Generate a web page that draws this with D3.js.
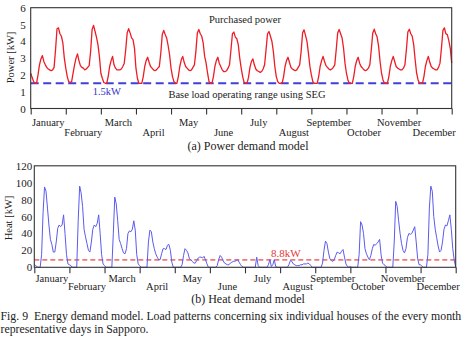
<!DOCTYPE html>
<html><head><meta charset="utf-8">
<script src="https://cdn.jsdelivr.net/npm/d3@7"></script>
<style>
html,body{margin:0;padding:0;background:#fff;}
svg{display:block;font-family:"Liberation Serif","Times New Roman",serif;}
text{fill:#222;}
</style></head>
<body>
<svg id="c" width="472" height="347"></svg>
<script>
const months = ["January","February","March","April","May","June","July","August","September","October","November","December"];
const powerTicks = [0,1,2,3,4,5,6];
const heatTicks = [0,20,40,60,80,100,120];
const baseLoad = 1.5;
const heatLevel = 8.8;
// hourly purchased power [kW], one representative day per month
const power = [
 [2.1,1.85,1.6,1.5,1.5,2.0,2.6,2.95,3.15,2.8,2.6,2.45,2.35,2.3,2.25,2.3,2.45,3.5,4.75,4.8,4.45,4.3,3.9,3.0],
 [2.4,1.9,1.6,1.55,1.6,2.1,2.6,3.0,3.25,2.85,2.55,2.45,2.4,2.3,2.35,2.45,2.55,3.4,4.7,4.95,4.6,4.25,3.8,3.1],
 [2.1,1.8,1.55,1.5,1.5,1.9,2.5,2.85,3.1,2.6,2.4,2.3,2.3,2.3,2.35,2.5,2.7,3.5,4.5,4.75,4.5,4.2,4.1,3.6],
 [2.4,1.8,1.5,1.5,1.5,1.9,2.5,2.85,3.05,2.75,2.5,2.4,2.3,2.25,2.3,2.4,2.5,3.3,4.4,4.65,4.4,4.2,3.75,3.2],
 [2.4,1.9,1.6,1.5,1.5,1.9,2.5,2.9,3.1,2.75,2.5,2.4,2.3,2.25,2.3,2.45,2.6,3.4,4.5,4.7,4.45,4.3,3.9,3.1],
 [2.7,2.1,1.6,1.5,1.5,1.9,2.5,2.85,3.05,2.7,2.5,2.3,2.2,2.2,2.25,2.4,2.6,3.5,4.45,4.55,4.25,4.15,3.8,3.0],
 [2.4,1.9,1.55,1.5,1.5,1.85,2.45,2.8,2.95,2.6,2.35,2.25,2.2,2.15,2.2,2.35,2.6,3.5,4.45,4.58,4.3,4.0,3.4,2.5],
 [1.9,1.6,1.5,1.5,1.5,1.9,2.5,2.85,3.05,2.75,2.45,2.35,2.3,2.25,2.3,2.45,2.6,3.4,4.5,4.68,4.35,4.0,3.3,2.5],
 [2.0,1.6,1.5,1.5,1.5,1.9,2.5,2.85,3.1,2.8,2.55,2.45,2.35,2.3,2.35,2.45,2.6,3.5,4.5,4.7,4.45,4.2,3.6,2.7],
 [2.1,1.7,1.5,1.5,1.5,1.9,2.5,2.85,3.05,2.7,2.5,2.4,2.3,2.25,2.3,2.4,2.6,3.5,4.5,4.72,4.45,4.25,3.7,2.8],
 [2.1,1.7,1.5,1.5,1.5,1.9,2.5,2.85,3.1,2.8,2.5,2.4,2.35,2.3,2.3,2.4,2.6,3.5,4.55,4.72,4.45,4.3,3.8,2.9],
 [2.1,1.7,1.5,1.5,1.5,1.9,2.5,2.85,3.1,2.75,2.5,2.4,2.35,2.3,2.3,2.45,2.7,3.6,4.65,4.8,4.45,4.4,4.05,3.6,2.7]
];
// hourly heat demand [kW]
const heat = [
 [3.5,2,0.5,0,0,15,65,95,90,70,50,33,27,18,18,30,46,50,48,50,62,40,15,4],
 [3,2,0,0,0,0,55,96,88,72,45,36,28,20,18,30,45,50,48,52,62,40,15,4],
 [2,0,0,0,0,0,40,83,75,55,33,28,22,17,16,22,40,43,42,45,55,44,15,4],
 [2,0,0,0,0,0,30,44,42,30,22,16,12,9,9,16,22,22,21,26,27,20,6,0],
 [0,0,0,0,0,3,14,22,20,17,10,9,7,5,5,8,11,12,12,11,13,9,4,0],
 [0,0,0,0,0,2,9,14,12,8,5,4,3,3,5,6,7,7,8,9,6,3,1,0],
 [0,0,0,0,0,0,0,0,12,2,0,0,0,0,0,0,3,9,1,3,9,1,0,0],
 [0,0,0,0,0,0,3,8,7,4,3,2,2,2,3,3,4,4,4,5,4,2,0,0],
 [0,0,0,0,0,5,20,31,28,18,10,8,7,9,14,18,17,16,19,21,12,4,1,0],
 [1,0,0,0,0,0,15,54,50,40,22,16,12,9,14,22,27,26,28,30,33,15,5,3],
 [2,0,0,0,0,0,30,78,72,55,40,28,20,17,22,35,40,39,40,44,48,30,10,3],
 [3,1,0,0,0,15,70,96,90,60,45,35,25,18,20,30,45,50,49,55,62,45,22,8,0.5]
];

const svg = d3.select("#c");
svg.append("rect").attr("width",472).attr("height",347).attr("fill","#fff");

function panel(cfg){
  const g = svg.append("g");
  const flat = cfg.data.flat();
  const x = d3.scaleLinear().domain([0, 288]).range([cfg.x0, cfg.x1]);
  const xm = d3.scaleLinear().domain([0, 12]).range([cfg.x0, cfg.x1]);
  const y = d3.scaleLinear().domain(cfg.ydom).range([cfg.y0, cfg.y1]);
  g.append("line").attr("x1",cfg.x0).attr("x2",cfg.x1)
    .attr("y1",y(cfg.ref)).attr("y2",y(cfg.ref))
    .attr("stroke",cfg.refColor).attr("stroke-width",cfg.refWidth)
    .attr("stroke-dasharray",cfg.refDash);
  g.append("path").datum(flat)
    .attr("fill","none").attr("stroke",cfg.color).attr("stroke-width",cfg.width)
    .attr("stroke-linejoin","round")
    .attr("d", d3.line().x((d,i)=>x(i)).y(d=>y(d)));
  g.append("rect").attr("x",cfg.x0).attr("y",cfg.y1)
    .attr("width",cfg.x1-cfg.x0).attr("height",cfg.y0-cfg.y1)
    .attr("fill","none").attr("stroke","#333").attr("stroke-width",1.1);
  const ya = g.append("g").attr("transform",`translate(${cfg.x0},0)`)
    .call(d3.axisLeft(y).tickValues(cfg.yticks).tickSize(0).tickPadding(cfg.ypad).tickFormat(d3.format("d")));
  ya.select(".domain").remove();
  ya.selectAll("text").attr("font-size",11).attr("font-family","Liberation Serif").attr("fill","#222");
  const xa = g.append("g").attr("transform",`translate(0,${cfg.y0})`)
    .call(d3.axisBottom(xm).tickValues(d3.range(13)).tickSize(6).tickFormat(""));
  xa.select(".domain").remove();
  xa.selectAll("line").attr("stroke","#333").attr("stroke-width",1.1);
  g.selectAll("text.m").data(months).enter().append("text")
    .attr("class","m")
    .attr("x",(d,i)=>xm(i+0.5))
    .attr("y",(d,i)=> i%2===0 ? cfg.y0+cfg.row1 : cfg.y0+cfg.row2)
    .attr("text-anchor","middle").attr("font-size",10.5).text(d=>d);
  g.append("text").attr("transform",`translate(${cfg.tx},${cfg.ty}) rotate(-90)`)
    .attr("text-anchor","middle").attr("font-size",10.5).text(cfg.ytitle);
  return {x, y, xm};
}

const p1 = panel({data:power, x0:30.7, x1:451.7, y0:108.5, y1:7.7, ydom:[0,6], yticks:powerTicks,
  ypad:5, ref:baseLoad, refColor:"#4040d8", refWidth:2, refDash:"8,4.5",
  color:"#ee1c24", width:1.3, row1:17, row2:27, ytitle:"Power [kW]", tx:13.5, ty:57.5});
const p2 = panel({data:heat, x0:34.3, x1:455.7, y0:267.3, y1:165.8, ydom:[0,120], yticks:heatTicks,
  ypad:2, ref:heatLevel, refColor:"#f07a7a", refWidth:1.6, refDash:"5,3",
  color:"#5b5bee", width:1, row1:14.5, row2:23, ytitle:"Heat [kW]", tx:12, ty:218});

svg.append("text").attr("x",245).attr("y",22.5).attr("text-anchor","middle").attr("font-size",10.5).text("Purchased power");
svg.append("text").attr("x",247).attr("y",97.5).attr("text-anchor","middle").attr("font-size",10.5).text("Base load operating range using SEG");
svg.append("text").attr("x",92.7).attr("y",94.5).attr("font-size",10.5).style("fill","#3535c8").text("1.5kW");
svg.append("text").attr("x",248).attr("y",150).attr("text-anchor","middle").attr("font-size",12).text("(a) Power demand model");
svg.append("text").attr("x",271).attr("y",256.5).attr("font-size",11).style("fill","#e03838").text("8.8kW");
svg.append("text").attr("x",248).attr("y",303).attr("text-anchor","middle").attr("font-size",12).text("(b) Heat demand model");
svg.append("text").attr("x",0.5).attr("y",320).attr("font-size",11.8).attr("xml:space","preserve").style("white-space","pre")
  .text("Fig. 9  Energy demand model. Load patterns concerning six individual houses of the every month");
svg.append("text").attr("x",0.5).attr("y",333.2).attr("font-size",11.8).text("representative days in Sapporo.");
</script>
</body></html>
